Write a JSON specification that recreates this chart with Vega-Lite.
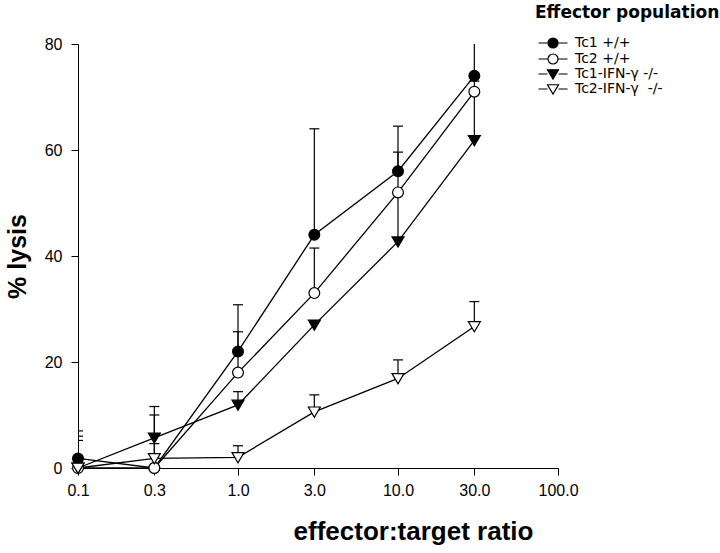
{
  "$schema": "https://vega.github.io/schema/vega-lite/v6.json",
  "width": 480,
  "height": 424,
  "autosize": "none",
  "padding": {"left": 78, "top": 44, "right": 162, "bottom": 85},
  "background": "white",
  "config": {"view": {"stroke": null}, "font": "Liberation Sans"},
  "data": {"values": [
    {"series": "Tc1 +/+", "x": 0.1, "y": 1.8, "hi": 7.0},
    {"series": "Tc1 +/+", "x": 0.3, "y": 0, "hi": 10.0},
    {"series": "Tc1 +/+", "x": 1, "y": 22, "hi": 30.8},
    {"series": "Tc1 +/+", "x": 3, "y": 44, "hi": 64},
    {"series": "Tc1 +/+", "x": 10, "y": 56, "hi": 64.5},
    {"series": "Tc1 +/+", "x": 30, "y": 74, "hi": 84},
    {"series": "Tc2 +/+", "x": 0.1, "y": 0, "hi": 6.0},
    {"series": "Tc2 +/+", "x": 0.3, "y": 0, "hi": null},
    {"series": "Tc2 +/+", "x": 1, "y": 18, "hi": 25.7},
    {"series": "Tc2 +/+", "x": 3, "y": 33, "hi": 41.5},
    {"series": "Tc2 +/+", "x": 10, "y": 52, "hi": 59.6},
    {"series": "Tc2 +/+", "x": 30, "y": 71, "hi": null},
    {"series": "Tc1-IFN-γ -/-", "x": 0.1, "y": 0, "hi": 5.2},
    {"series": "Tc1-IFN-γ -/-", "x": 0.3, "y": 5.7, "hi": 11.6},
    {"series": "Tc1-IFN-γ -/-", "x": 1, "y": 11.9, "hi": 14.4},
    {"series": "Tc1-IFN-γ -/-", "x": 3, "y": 27, "hi": null},
    {"series": "Tc1-IFN-γ -/-", "x": 10, "y": 42.7, "hi": 52},
    {"series": "Tc1-IFN-γ -/-", "x": 30, "y": 61.8, "hi": 73},
    {"series": "Tc2-IFN-γ\u00a0 -/-", "x": 0.1, "y": 0, "hi": null},
    {"series": "Tc2-IFN-γ\u00a0 -/-", "x": 0.3, "y": 1.8, "hi": 4.6},
    {"series": "Tc2-IFN-γ\u00a0 -/-", "x": 1, "y": 2, "hi": 4.2},
    {"series": "Tc2-IFN-γ\u00a0 -/-", "x": 3, "y": 10.6, "hi": 13.8},
    {"series": "Tc2-IFN-γ\u00a0 -/-", "x": 10, "y": 16.9, "hi": 20.4},
    {"series": "Tc2-IFN-γ\u00a0 -/-", "x": 30, "y": 26.7, "hi": 31.4}
  ]},
  "encoding": {
    "x": {
      "field": "x", "type": "quantitative",
      "scale": {"type": "log", "domain": [0.1, 100], "nice": false},
      "axis": {
        "title": "effector:target ratio",
        "values": [0.1, 0.3, 1, 3, 10, 30, 100],
        "format": ".1f",
        "grid": false,
        "tickSize": 7,
        "labelFontSize": 16,
        "labelPadding": 7,
        "labelFlush": false,
        "labelOverlap": false,
        "labelColor": "black",
        "domainColor": "black",
        "tickColor": "black",
        "titleFontSize": 26,
        "titleFontWeight": "bold",
        "titleColor": "black",
        "titlePadding": 20,
        "titleX": 335,
        "titleAlign": "center"
      }
    },
    "y": {
      "field": "y", "type": "quantitative",
      "scale": {"domain": [0, 80], "nice": false},
      "title": "% lysis",
      "axis": {
        "values": [0, 20, 40, 60, 80],
        "grid": false,
        "tickSize": 7,
        "labelFontSize": 16,
        "labelPadding": 9,
        "labelColor": "black",
        "domainColor": "black",
        "tickColor": "black",
        "titleFontSize": 25,
        "titleFontWeight": "bold",
        "titleColor": "black",
        "titlePadding": 14
      }
    }
  },
  "layer": [
    {
      "mark": {"type": "line", "color": "black", "strokeWidth": 1.3},
      "encoding": {"detail": {"field": "series", "type": "nominal"}}
    },
    {
      "transform": [{"filter": "datum.hi != null"}],
      "mark": {"type": "rule", "color": "black", "strokeWidth": 1.2, "clip": true},
      "encoding": {"y2": {"field": "hi"}}
    },
    {
      "transform": [{"filter": "datum.hi != null"}],
      "mark": {"type": "point", "shape": "M-1,0H1", "size": 100, "filled": false, "stroke": "black", "strokeWidth": 1.2, "opacity": 1, "clip": true},
      "encoding": {"y": {"field": "hi", "type": "quantitative", "title": "% lysis"}}
    },
    {
      "mark": {"type": "point", "filled": true, "stroke": "black", "strokeWidth": 1.2, "size": 144, "opacity": 1},
      "encoding": {
        "shape": {
          "field": "series", "type": "nominal",
          "scale": {
            "domain": ["Tc1 +/+", "Tc2 +/+", "Tc1-IFN-γ -/-", "Tc2-IFN-γ\u00a0 -/-"],
            "range": [
              "M0.9,0A0.9,0.9,0,1,1,-0.9,0A0.9,0.9,0,1,1,0.9,0Z",
              "M0.9,0A0.9,0.9,0,1,1,-0.9,0A0.9,0.9,0,1,1,0.9,0Z",
              "M-1,-0.8L1,-0.8L0,0.9Z",
              "M-1,-0.8L1,-0.8L0,0.9Z"
            ]
          },
          "legend": null
        },
        "fill": {
          "field": "series", "type": "nominal",
          "scale": {
            "domain": ["Tc1 +/+", "Tc2 +/+", "Tc1-IFN-γ -/-", "Tc2-IFN-γ\u00a0 -/-"],
            "range": ["black", "white", "black", "white"]
          },
          "legend": null
        }
      }
    },
    {
      "transform": [{"filter": "datum.y < 0"}],
      "mark": {"type": "point", "filled": true, "strokeWidth": 1.2, "size": 100, "opacity": 1},
      "encoding": {
        "shape": {
          "field": "series", "type": "nominal",
          "scale": {
            "domain": ["Tc1 +/+", "Tc2 +/+", "Tc1-IFN-γ -/-", "Tc2-IFN-γ\u00a0 -/-"],
            "range": [
              "M-2.9,0H-1M1,0H2.9M1,0A1,1,0,1,1,-1,0A1,1,0,1,1,1,0Z",
              "M-2.9,0H-1M1,0H2.9M1,0A1,1,0,1,1,-1,0A1,1,0,1,1,1,0Z",
              "M-2.9,0H-1.1M1.1,0H2.9M-1.1,-0.85L1.1,-0.85L0,1Z",
              "M-2.9,0H-1.1M1.1,0H2.9M-1.1,-0.85L1.1,-0.85L0,1Z"
            ]
          },
          "legend": {
            "title": "Effector population",
            "orient": "none",
            "legendX": 457,
            "legendY": -39,
            "padding": 0,
            "titleFont": "DejaVu Sans",
            "titleFontSize": 17,
            "titleFontWeight": "bold",
            "titleColor": "black",
            "titleLimit": 300,
            "titlePadding": 14,
            "labelFont": "DejaVu Sans",
            "labelFontSize": 14,
            "labelColor": "black",
            "labelLimit": 300,
            "symbolSize": 100,
            "symbolOffset": 11,
            "labelOffset": 15,
            "rowPadding": 0,
            "symbolStrokeWidth": 1.2,
            "symbolOpacity": 1
          }
        },
        "fill": {
          "field": "series", "type": "nominal",
          "scale": {
            "domain": ["Tc1 +/+", "Tc2 +/+", "Tc1-IFN-γ -/-", "Tc2-IFN-γ\u00a0 -/-"],
            "range": ["black", "white", "black", "white"]
          },
          "legend": {
            "title": "Effector population",
            "orient": "none",
            "legendX": 457,
            "legendY": -39,
            "padding": 0,
            "titleFont": "DejaVu Sans",
            "titleFontSize": 17,
            "titleFontWeight": "bold",
            "titleColor": "black",
            "titleLimit": 300,
            "titlePadding": 14,
            "labelFont": "DejaVu Sans",
            "labelFontSize": 14,
            "labelColor": "black",
            "labelLimit": 300,
            "symbolSize": 100,
            "symbolOffset": 11,
            "labelOffset": 15,
            "rowPadding": 0,
            "symbolStrokeWidth": 1.2,
            "symbolOpacity": 1
          }
        },
        "stroke": {
          "field": "series", "type": "nominal",
          "scale": {
            "domain": ["Tc1 +/+", "Tc2 +/+", "Tc1-IFN-γ -/-", "Tc2-IFN-γ\u00a0 -/-"],
            "range": ["black", "black", "black", "black"]
          },
          "legend": {
            "title": "Effector population",
            "orient": "none",
            "legendX": 457,
            "legendY": -39,
            "padding": 0,
            "titleFont": "DejaVu Sans",
            "titleFontSize": 17,
            "titleFontWeight": "bold",
            "titleColor": "black",
            "titleLimit": 300,
            "titlePadding": 14,
            "labelFont": "DejaVu Sans",
            "labelFontSize": 14,
            "labelColor": "black",
            "labelLimit": 300,
            "symbolSize": 100,
            "symbolOffset": 11,
            "labelOffset": 15,
            "rowPadding": 0,
            "symbolStrokeWidth": 1.2,
            "symbolOpacity": 1
          }
        }
      }
    }
  ],
  "resolve": {"scale": {"shape": "independent", "fill": "independent", "stroke": "independent"}}
}
